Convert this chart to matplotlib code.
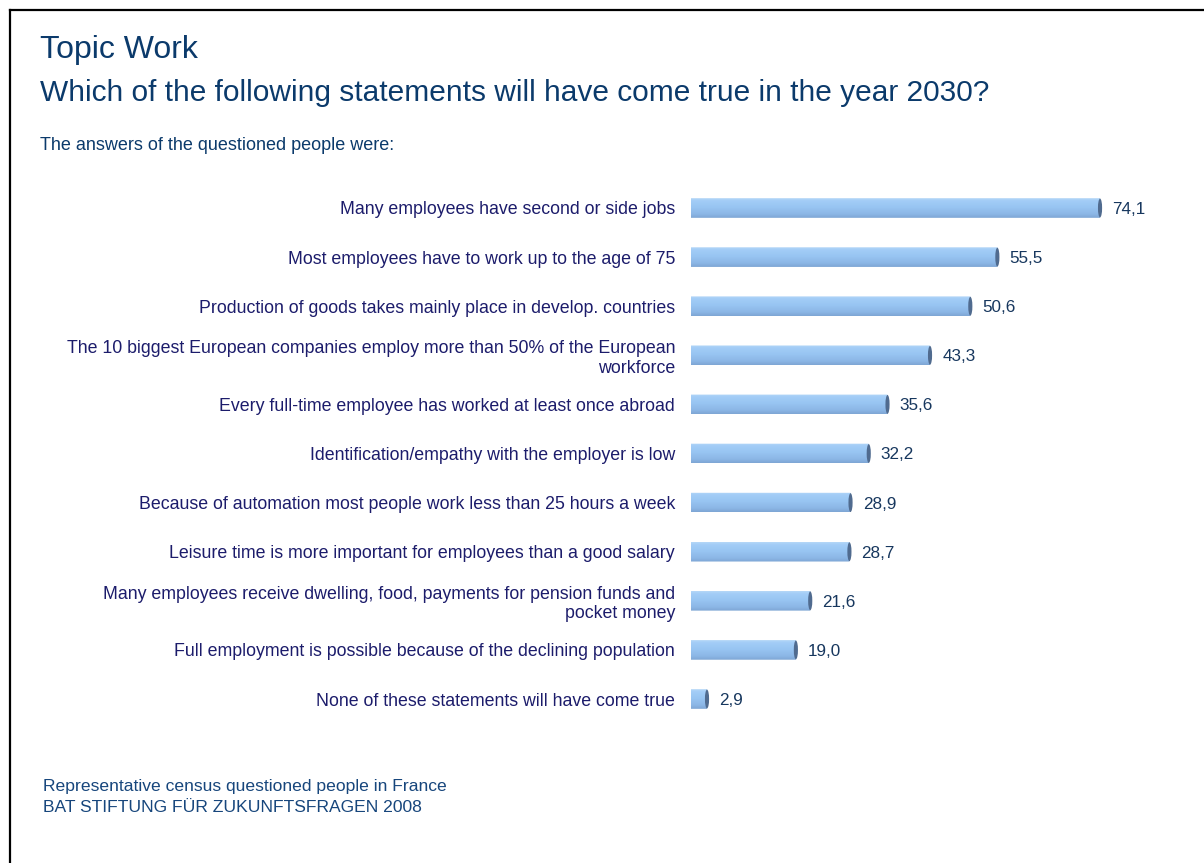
import numpy as np
import matplotlib
matplotlib.use("Agg")
import matplotlib.pyplot as plt
from matplotlib.path import Path
from matplotlib.patches import PathPatch, Ellipse
from matplotlib.lines import Line2D
from matplotlib.colors import LinearSegmentedColormap

plt.rcParams['font.family'] = ['Liberation Sans', 'DejaVu Sans']

categories = [
    "Many employees have second or side jobs",
    "Most employees have to work up to the age of 75",
    "Production of goods takes mainly place in develop. countries",
    "The 10 biggest European companies employ more than 50% of the European\nworkforce",
    "Every full-time employee has worked at least once abroad",
    "Identification/empathy with the employer is low",
    "Because of automation most people work less than 25 hours a week",
    "Leisure time is more important for employees than a good salary",
    "Many employees receive dwelling, food, payments for pension funds and\npocket money",
    "Full employment is possible because of the declining population",
    "None of these statements will have come true",
]
values = [74.1, 55.5, 50.6, 43.3, 35.6, 32.2, 28.9, 28.7, 21.6, 19.0, 2.9]
value_labels = ["74,1", "55,5", "50,6", "43,3", "35,6", "32,2", "28,9", "28,7", "21,6", "19,0", "2,9"]

title = "Topic Work"
subtitle = "Which of the following statements will have come true in the year 2030?"
intro = "The answers of the questioned people were:"
footer_lines = ["Representative census questioned people in France",
                "BAT STIFTUNG FÜR ZUKUNFTSFRAGEN 2008"]

W, H = 1204, 863
fig = plt.figure(figsize=(W / 100, H / 100), dpi=100)
fig.patch.set_facecolor("white")

# axes placed in pixel terms: bars start at x=691, 5.52 px per percent
px_per_unit = 5.52
x0_px = 691
xmax = 80
n = len(values)
row_px = 49.1
top_center = 208
ax_top = top_center - row_px / 2
ax_bot = top_center + (n - 1) * row_px + row_px / 2
ax = fig.add_axes([x0_px / W, 1 - ax_bot / H, xmax * px_per_unit / W, (ax_bot - ax_top) / H])
ax.set_xlim(0, xmax)
ax.set_ylim(n - 0.5, -0.5)
for s in ax.spines.values():
    s.set_visible(False)
ax.set_xticks([])
ax.set_yticks(range(n))
ax.set_yticklabels(categories, fontsize=12.8, color="#1c1c6b", linespacing=1.2)
ax.tick_params(axis="y", length=0, pad=11.5)

cmap = LinearSegmentedColormap.from_list(
    "cyl", [(0.0, "#b5d7f7"), (0.12, "#a3cdf7"), (0.45, "#98c5f2"),
            (0.8, "#8cb7e6"), (1.0, "#7ea6d4")])
grad = np.linspace(0, 1, 64).reshape(-1, 1)

bh = 0.40
rx = 0.55  # left rounding radius, data units
cap_w = 0.75
theta = np.linspace(np.pi / 2, 3 * np.pi / 2, 30)
for i, v in enumerate(values):
    top, bot = i - bh / 2, i + bh / 2
    # outline: top-right -> bottom-right -> around the rounded left end -> close
    arc_x = rx * np.cos(theta)
    arc_y = i - (bh / 2) * np.sin(theta)
    verts = [(v, top), (v, bot)] + [(x, y) for x, y in zip(arc_x[::-1], arc_y[::-1])] + [(v, top)]
    codes = [Path.MOVETO] + [Path.LINETO] * (len(verts) - 2) + [Path.CLOSEPOLY]
    clip = PathPatch(Path(verts, codes), facecolor="none", edgecolor="none")
    ax.add_patch(clip)
    im = ax.imshow(grad, cmap=cmap, aspect="auto", extent=(-rx, v, bot, top),
                   interpolation="bilinear", zorder=2)
    im.set_clip_path(clip)
    cap = Ellipse((v, i), cap_w, bh * 0.96, facecolor="#506b8f", edgecolor="none", zorder=3)
    ax.add_patch(cap)
    ax.text(v + 2.2, i + 0.03, value_labels[i], va="center", ha="left",
            fontsize=12.3, color="#17375e", zorder=4)

fig.text(40 / W, 1 - 58 / H, title, fontsize=23, color="#0b3a6b", va="baseline", ha="left")
fig.text(40 / W, 1 - 101 / H, subtitle, fontsize=21.5, color="#0b3a6b", va="baseline", ha="left")
fig.text(40 / W, 1 - 150 / H, intro, fontsize=13, color="#0b3a6b", va="baseline", ha="left")
for line, base in zip(footer_lines, (791, 812)):
    fig.text(43 / W, 1 - base / H, line, fontsize=12.6, color="#17467c",
             va="baseline", ha="left")

# frame along top and left edge
fig.add_artist(Line2D([9.5 / W, 1.0], [1 - 10.5 / H, 1 - 10.5 / H], color="black", lw=1.6,
                      transform=fig.transFigure))
fig.add_artist(Line2D([9.5 / W, 9.5 / W], [1 - 10.5 / H, 0.0], color="black", lw=1.6,
                      transform=fig.transFigure))

fig.savefig("out.png", dpi=100, facecolor="white")
